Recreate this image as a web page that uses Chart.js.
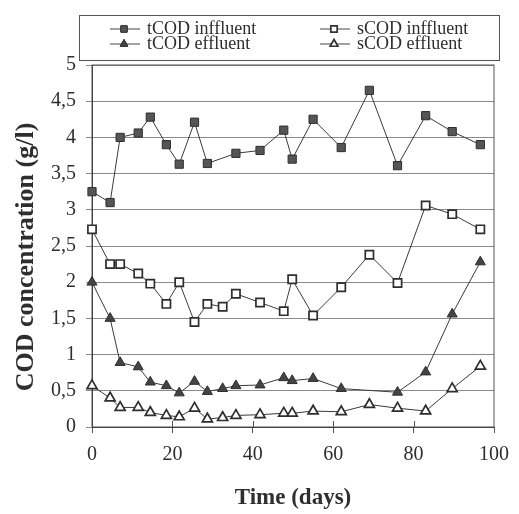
<!DOCTYPE html>
<html>
<head>
<meta charset="utf-8">
<script src="https://cdn.jsdelivr.net/npm/chart.js@4/dist/chart.umd.min.js"></script>
<style>
  body { margin: 0; background: #fff; }
</style>
</head>
<body>
<canvas id="codChart" width="519" height="514"></canvas>
<script>
// sampling days (shared by all four series)
const days = [0, 4.5, 7, 11.5, 14.5, 18.5, 21.7, 25.5, 28.7, 32.5, 35.8, 41.8, 47.7, 49.8, 55, 62, 69, 76, 83, 89.6, 96.6];

// COD concentrations in g/l, null = no sample that day
const tcodInfluent = [3.25, 3.1, 4.0, 4.06, 4.28, 3.9, 3.63, 4.21, 3.64, null, 3.78, 3.82, 4.1, 3.7, 4.25, 3.86, 4.65, 3.61, 4.3, 4.08, 3.9];
const scodInfluent = [2.73, 2.25, 2.25, 2.12, 1.98, 1.7, 2.0, 1.45, 1.7, 1.66, 1.84, 1.72, 1.6, 2.04, 1.54, 1.93, 2.38, 1.99, 3.06, 2.94, 2.73];
const tcodEffluent = [2.0, 1.5, 0.89, 0.83, 0.62, 0.57, 0.47, 0.63, 0.49, 0.53, 0.57, 0.58, 0.68, 0.64, 0.67, 0.53, null, 0.48, 0.76, 1.56, 2.28];
const scodEffluent = [0.57, 0.4, 0.27, 0.27, 0.2, 0.16, 0.14, 0.26, 0.11, 0.13, 0.16, 0.17, 0.19, 0.19, 0.22, 0.21, 0.31, 0.26, 0.22, 0.53, 0.84];

const yTickLabels = ['0', '0,5', '1', '1,5', '2', '2,5', '3', '3,5', '4', '4,5', '5'];
const legendLabels = ['tCOD inffluent', 'sCOD inffluent', 'tCOD effluent', 'sCOD effluent'];
const yTitle = 'COD concentration (g/l)';

const ink = '#2e2e2e';
const serif = "'Liberation Serif', 'DejaVu Serif', serif";

function pts(vals) {
  return days.map((d, i) => ({ x: d, y: vals[i] }));
}

function series(label, vals, style, fill) {
  return {
    label: label,
    data: pts(vals),
    borderColor: '#3a3a3a',
    borderWidth: 1,
    pointStyle: style,
    pointRadius: 5.8,
    pointBackgroundColor: fill,
    pointBorderColor: '#2e2e2e',
    pointBorderWidth: fill == '#fff' ? 1.7 : 1,
    spanGaps: true,
    clip: false,
    tension: 0
  };
}

// frame round the plot, y title, and the boxed legend at the top
const framePlugin = {
  id: 'frame',
  beforeDatasetsDraw(chart) {
    const { ctx, chartArea: a, scales } = chart;
    ctx.save();
    ctx.strokeStyle = '#555';
    ctx.lineWidth = 1;
    ctx.strokeRect(a.left, a.top, a.right - a.left, a.bottom - a.top);
    // small ticks crossing up into the plot on the x axis
    ctx.beginPath();
    [20, 40, 60, 80].forEach(v => {
      const x = Math.round(scales.x.getPixelForValue(v)) + 0.5;
      ctx.moveTo(x, a.bottom - 6);
      ctx.lineTo(x, a.bottom);
    });
    ctx.stroke();
    ctx.restore();
  },
  afterDraw(chart) {
    const ctx = chart.ctx;
    ctx.save();
    // y axis title
    ctx.save();
    ctx.translate(26, 257);
    ctx.rotate(-Math.PI / 2);
    ctx.fillStyle = ink;
    ctx.font = 'bold 26px ' + serif;
    ctx.textAlign = 'center';
    ctx.textBaseline = 'middle';
    ctx.fillText(yTitle, 0, 0);
    ctx.restore();

    ctx.strokeStyle = '#555';
    ctx.lineWidth = 1;
    ctx.strokeRect(79.5, 15.5, 420, 45);
    const cols = [110, 320];
    const rows = [29, 44];
    chart.data.datasets.forEach((ds, i) => {
      const x = cols[i % 2], y = rows[Math.floor(i / 2)];
      ctx.strokeStyle = '#444';
      ctx.lineWidth = 1;
      ctx.beginPath();
      ctx.moveTo(x, y);
      ctx.lineTo(x + 30, y);
      ctx.stroke();
      Chart.helpers.drawPoint(ctx, {
        pointStyle: ds.pointStyle, radius: 4.5, borderWidth: ds.pointBorderWidth
      }, x + 14, y);
      ctx.fillStyle = ds.pointBackgroundColor;
      ctx.strokeStyle = '#333';
      ctx.lineWidth = ds.pointBorderWidth;
      ctx.fill();
      ctx.stroke();
      ctx.fillStyle = ink;
      ctx.font = '18px ' + serif;
      ctx.textBaseline = 'middle';
      ctx.textAlign = 'left';
      ctx.fillText(legendLabels[i], x + 37, y);
    });
    ctx.restore();
  }
};

new Chart(document.getElementById('codChart'), {
  type: 'line',
  data: {
    datasets: [
      series(legendLabels[0], tcodInfluent, 'rect', '#555'),
      series(legendLabels[1], scodInfluent, 'rect', '#fff'),
      series(legendLabels[2], tcodEffluent, 'triangle', '#444'),
      series(legendLabels[3], scodEffluent, 'triangle', '#fff')
    ]
  },
  plugins: [framePlugin],
  options: {
    responsive: false,
    animation: false,
    devicePixelRatio: 1,
    layout: { padding: { top: 65, right: 20, left: 0, bottom: 0 } },
    plugins: {
      legend: { display: false },
      tooltip: { enabled: false }
    },
    scales: {
      x: {
        type: 'linear',
        min: 0,
        max: 100,
        ticks: {
          stepSize: 20,
          color: ink,
          padding: 10,
          font: { family: serif, size: 20 }
        },
        grid: { drawOnChartArea: false, tickLength: 6, color: '#555' },
        border: { color: '#333' },
        title: {
          display: true,
          text: 'Time (days)',
          color: ink,
          font: { family: serif, size: 23, weight: 'bold' },
          padding: { top: 0, bottom: 2 }
        },
        afterFit(scale) { scale.height = 87; }
      },
      y: {
        min: 0,
        max: 5,
        ticks: {
          stepSize: 0.5,
          color: ink,
          padding: 10,
          font: { family: serif, size: 20 },
          callback: (v, i) => yTickLabels[i]
        },
        grid: { color: '#8a8a8a', tickLength: 6 },
        border: { color: '#333' },
        afterFit(scale) { scale.width = 92; }
      }
    }
  }
});
</script>
</body>
</html>
